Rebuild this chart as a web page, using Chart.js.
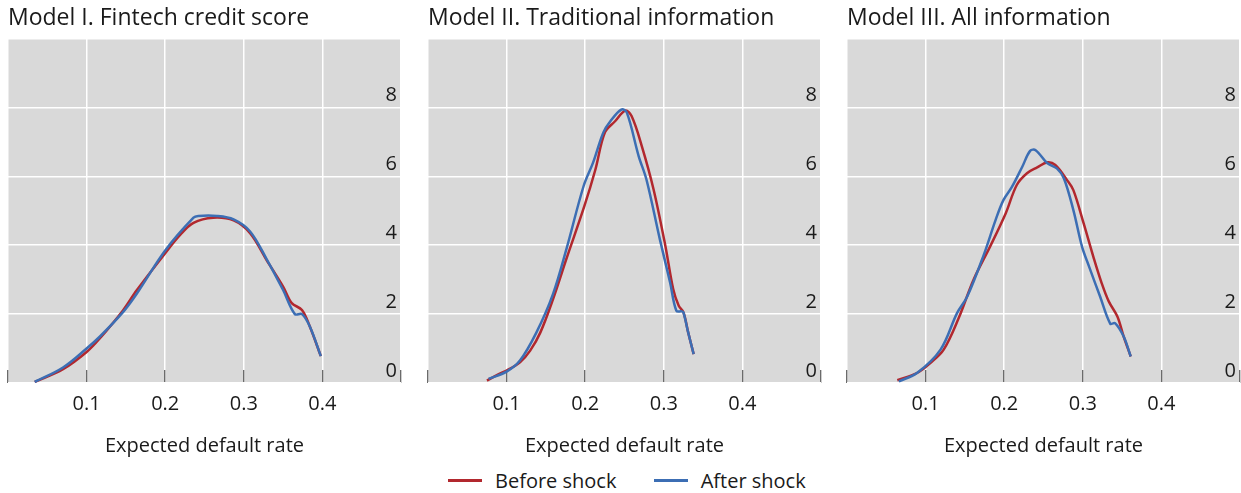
<!DOCTYPE html>
<html>
<head>
<meta charset="utf-8">
<script src="https://cdn.jsdelivr.net/npm/chart.js@4"></script>
<style>
  body { margin: 0; background: #fff; width: 1241px; height: 493px; position: relative; overflow: hidden; font-family: 'Open Sans', sans-serif; }
  .panel { position: absolute; top: 0; width: 402px; height: 460px; }
  #legend { position: absolute; top: 461px; left: 448px; font-size: 20px; line-height: 28px; color: #1a1a1a; white-space: nowrap; }
  #legend span.item { display: inline-flex; align-items: center; margin-right: 32px; }
  #legend i { display: inline-block; width: 34px; height: 3px; margin-right: 13px; }
</style>
</head>
<body>
<div class="panel" style="left:0px"><canvas id="chart1"></canvas></div>
<div class="panel" style="left:420px"><canvas id="chart2"></canvas></div>
<div class="panel" style="left:839px"><canvas id="chart3"></canvas></div>
<div id="legend">
  <span class="item"><i style="background:#b2282e"></i>Before shock</span>
  <span class="item"><i style="background:#3c6eb4"></i>After shock</span>
</div>
<script>
// Kernel density of expected default rate, before / after the shock

const panelTitles = ['Model I. Fintech credit score', 'Model II. Traditional information', 'Model III. All information'];
const seriesNames = ['Before shock', 'After shock'];
const xTicks = [0.1, 0.2, 0.3, 0.4];
const yTicks = [0, 2, 4, 6, 8];

// Model I
const m1BeforeX = [0.034, 0.070, 0.100, 0.117, 0.146, 0.164, 0.200, 0.219, 0.236, 0.261, 0.287, 0.308, 0.329, 0.350, 0.361, 0.374, 0.384, 0.398];
const m1BeforeY = [0.03, 0.40, 0.90, 1.30, 2.10, 2.70, 3.77, 4.30, 4.65, 4.80, 4.72, 4.35, 3.57, 2.80, 2.32, 2.12, 1.64, 0.78];
const m1AfterX = [0.034, 0.070, 0.100, 0.117, 0.146, 0.164, 0.200, 0.236, 0.242, 0.266, 0.287, 0.308, 0.329, 0.350, 0.365, 0.374, 0.384, 0.398];
const m1AfterY = [0.03, 0.45, 1.00, 1.35, 2.05, 2.60, 3.85, 4.80, 4.85, 4.85, 4.75, 4.40, 3.60, 2.70, 2.00, 2.00, 1.64, 0.78];

// Model II
const m2BeforeX = [0.075, 0.090, 0.100, 0.117, 0.130, 0.143, 0.159, 0.176, 0.199, 0.213, 0.225, 0.238, 0.251, 0.259, 0.272, 0.287, 0.302, 0.312, 0.319, 0.325, 0.331, 0.338];
const m2BeforeY = [0.07, 0.26, 0.36, 0.60, 0.94, 1.47, 2.43, 3.60, 5.14, 6.20, 7.27, 7.60, 7.91, 7.75, 6.88, 5.62, 3.98, 2.72, 2.24, 2.05, 1.47, 0.84];
const m2AfterX = [0.077, 0.100, 0.117, 0.138, 0.159, 0.176, 0.198, 0.210, 0.223, 0.232, 0.246, 0.253, 0.268, 0.278, 0.295, 0.308, 0.316, 0.323, 0.325, 0.331, 0.338];
const m2AfterY = [0.12, 0.33, 0.65, 1.47, 2.58, 3.88, 5.72, 6.40, 7.27, 7.60, 7.94, 7.85, 6.59, 5.90, 4.17, 2.92, 2.10, 2.08, 2.05, 1.47, 0.84];

// Model III
const m3BeforeX = [0.064, 0.089, 0.106, 0.123, 0.142, 0.161, 0.182, 0.202, 0.216, 0.229, 0.242, 0.255, 0.265, 0.280, 0.288, 0.301, 0.314, 0.324, 0.333, 0.344, 0.352, 0.361];
const m3BeforeY = [0.08, 0.29, 0.58, 0.97, 1.88, 3.00, 3.96, 4.93, 5.75, 6.09, 6.26, 6.41, 6.33, 5.89, 5.60, 4.64, 3.62, 2.90, 2.37, 1.93, 1.35, 0.77];
const m3AfterX = [0.066, 0.089, 0.119, 0.140, 0.153, 0.174, 0.189, 0.199, 0.210, 0.223, 0.233, 0.240, 0.255, 0.267, 0.276, 0.288, 0.299, 0.308, 0.322, 0.335, 0.341, 0.352, 0.361];
const m3AfterY = [0.05, 0.29, 0.97, 2.03, 2.51, 3.72, 4.73, 5.31, 5.70, 6.28, 6.74, 6.76, 6.38, 6.23, 5.94, 5.02, 3.96, 3.38, 2.51, 1.72, 1.74, 1.35, 0.77];

const COLORS = {
  before: '#b2282e',
  after: '#3c6eb4',
  plotBg: '#d9d9d9',
  grid: '#ffffff',
  text: '#1a1a1a',
  tick: '#3a3a3a'
};

const FONT = "'Open Sans', sans-serif";

// fills the plotting area grey, behind grid and lines
const plotBackground = {
  id: 'plotBackground',
  beforeDraw(chart) {
    const { ctx, chartArea: a } = chart;
    ctx.save();
    ctx.fillStyle = COLORS.plotBg;
    ctx.fillRect(a.left, a.top, a.right - a.left, a.bottom - a.top);
    ctx.restore();
  }
};

function toPoints(xs, ys) {
  return xs.map((x, i) => ({ x, y: ys[i] }));
}

function renderPanel(canvasId, title, beforeX, beforeY, afterX, afterY) {
  const lineStyle = { borderWidth: 2.5, pointRadius: 0, tension: 0.35, fill: false };

  new Chart(document.getElementById(canvasId), {
    type: 'line',
    data: {
      datasets: [
        { label: seriesNames[1], data: toPoints(afterX, afterY), borderColor: COLORS.after, ...lineStyle },
        { label: seriesNames[0], data: toPoints(beforeX, beforeY), borderColor: COLORS.before, ...lineStyle }
      ]
    },
    options: {
      responsive: false,
      animation: false,
      layout: { padding: { left: 8, right: 1, top: 0, bottom: 2 } },
      plugins: {
        legend: { display: false },
        tooltip: { enabled: false },
        title: {
          display: true,
          text: title,
          align: 'start',
          color: COLORS.text,
          font: { family: FONT, size: 23, weight: 'normal' },
          padding: { top: 5, bottom: 6 }
        }
      },
      scales: {
        x: {
          type: 'linear',
          min: 0,
          max: 0.5,
          afterBuildTicks: (axis) => { axis.ticks = [0, 0.1, 0.2, 0.3, 0.4, 0.5].map((v) => ({ value: v })); },
          // axis box fixed so the plot area lines up with the reference
          afterFit: (axis) => { axis.height = 75; axis.paddingLeft = 0; axis.paddingRight = 0; },
          grid: { color: COLORS.grid, lineWidth: 1.5, tickLength: -13, tickColor: COLORS.tick, tickWidth: 1 },
          border: { display: false },
          ticks: {
            color: COLORS.text,
            font: { family: FONT, size: 20 },
            padding: 22,
            maxRotation: 0,
            callback: (v) => (xTicks.includes(Math.round(v * 10) / 10) ? String(Math.round(v * 10) / 10) : '')
          },
          title: {
            display: true,
            text: 'Expected default rate',
            color: COLORS.text,
            font: { family: FONT, size: 20 },
            padding: { top: 20, bottom: 0 }
          }
        },
        y: {
          position: 'right',
          min: 0,
          max: 10,
          afterFit: (axis) => { axis.width = 0; axis.paddingTop = 0; axis.paddingBottom = 0; },
          ticks: {
            stepSize: 2,
            mirror: true,
            padding: -4,
            labelOffset: -12,
            color: COLORS.text,
            font: { family: FONT, size: 20 },
            callback: (v) => (yTicks.includes(v) ? String(v) : '')
          },
          grid: { color: COLORS.grid, lineWidth: 1.5, drawTicks: false },
          border: { display: false }
        }
      }
    },
    plugins: [plotBackground]
  });
}

const canvasSize = { w: 402, h: 460 };
['chart1', 'chart2', 'chart3'].forEach((id) => {
  const c = document.getElementById(id);
  c.width = canvasSize.w;
  c.height = canvasSize.h;
});

renderPanel('chart1', panelTitles[0], m1BeforeX, m1BeforeY, m1AfterX, m1AfterY);
renderPanel('chart2', panelTitles[1], m2BeforeX, m2BeforeY, m2AfterX, m2AfterY);
renderPanel('chart3', panelTitles[2], m3BeforeX, m3BeforeY, m3AfterX, m3AfterY);
</script>
</body>
</html>
